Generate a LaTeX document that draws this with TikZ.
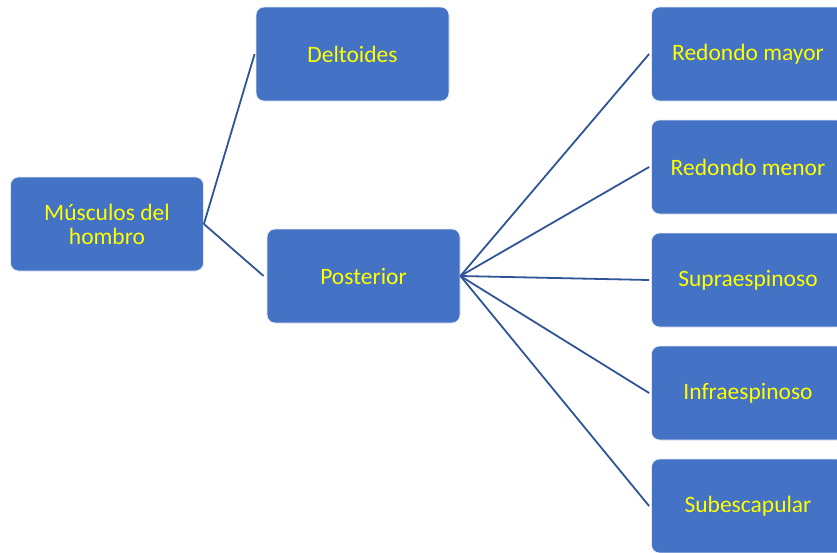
\documentclass[tikz,border=0pt]{standalone}
\usepackage{fontspec}
\setmainfont{Carlito}
\definecolor{boxblue}{HTML}{4472C4}
\definecolor{linkblue}{HTML}{2F5597}
\definecolor{txtyellow}{HTML}{FFFF00}
\begin{document}
\begin{tikzpicture}[x=1pt,y=-1pt,
  muscle/.style={rectangle, rounded corners=8pt, fill=boxblue, draw=white!85!boxblue,
    line width=0.8pt, minimum width=193pt, minimum height=94pt, inner sep=0pt,
    text=txtyellow, align=center, font=\fontsize{23.5}{24}\selectfont},
  link/.style={draw=linkblue, line width=1.8pt}]
  \useasboundingbox (0,0) rectangle (837,552);
  \clip (0,0) rectangle (837,552);
  % root and first level
  \node[muscle] (root) at (107,224) {Músculos del\\hombro};
  \node[muscle] (delt) at (352.5,54) {Deltoides};
  \node[muscle] (post) at (363.5,276) {Posterior};
  % second level (right column, partly beyond the edge)
  \node[muscle] (rmay) at (748,54) {Redondo mayor};
  \node[muscle] (rmen) at (748,167) {Redondo menor};
  \node[muscle] (supr) at (748,280) {Supraespinoso};
  \node[muscle] (infr) at (748,393) {Infraespinoso};
  \node[muscle] (subs) at (748,506) {Subescapular};
  % connectors
  \draw[link] (root.east) -- ([xshift=-1pt]delt.west);
  \draw[link] (root.east) -- ([xshift=-3pt]post.west);
  \foreach \t in {rmay,rmen,supr,infr,subs}
    \draw[link] (post.east) -- ([xshift=-2pt]\t.west);
\end{tikzpicture}
\end{document}
